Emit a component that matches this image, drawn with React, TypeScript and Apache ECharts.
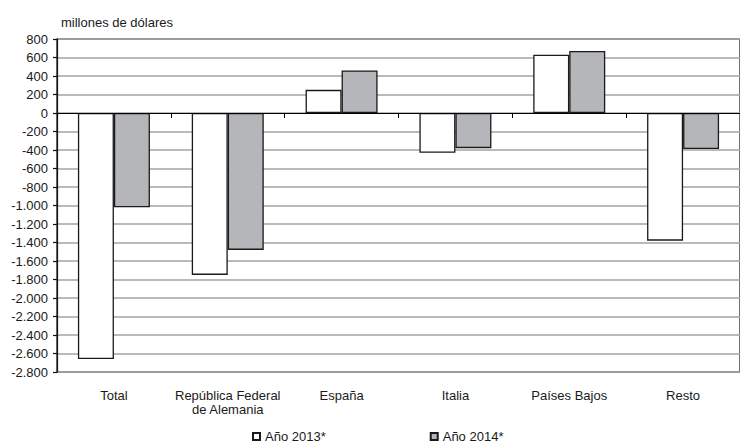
import React, { useEffect, useRef } from "react";
import * as echarts from "echarts";

const categories = [
  "Total",
  "República Federal\nde Alemania",
  "España",
  "Italia",
  "Países Bajos",
  "Resto",
];
const seriesNames = ["Año 2013*", "Año 2014*"];
const values2013 = [-2660, -1750, 250, -430, 630, -1380];
const values2014 = [-1020, -1480, 460, -380, 670, -390];
const yMin = -2800;
const yMax = 800;
const yStep = 200;
const unitLabel = "millones de dólares";

const FONT = "'Liberation Sans', Arial, sans-serif";

function fmt(v: number): string {
  const s = Math.abs(v).toString().replace(/\B(?=(\d{3})+(?!\d))/g, ".");
  return (v < 0 ? "-" : "") + s;
}

export default function App() {
  const ref = useRef<HTMLDivElement>(null);
  useEffect(() => {
    if (!ref.current) return;
    const chart = echarts.init(ref.current, undefined, { renderer: "svg" });
    chart.setOption({
      animation: false,
      backgroundColor: "#ffffff",
      textStyle: { fontFamily: FONT },
      title: {
        text: unitLabel,
        left: 56,
        top: 11,
        textStyle: { fontFamily: FONT, fontSize: 13, fontWeight: "normal", color: "#1a1a1a" },
      },
      legend: {
        data: seriesNames,
        left: 247,
        top: 425,
        icon: "rect",
        itemWidth: 7,
        itemHeight: 7,
        itemGap: 104,
        textStyle: { fontFamily: FONT, fontSize: 13, color: "#1a1a1a" },
      },
      grid: {
        left: 57,
        top: 39,
        width: 693,
        height: 333,
        show: true,
        borderColor: "#111",
        borderWidth: 1.2,
        containLabel: false,
      },
      xAxis: [
        {
          type: "category",
          data: categories,
          position: "bottom",
          z: 5,
          axisLine: { onZero: true, lineStyle: { color: "#000", width: 1.2 } },
          axisTick: { show: true, interval: 0, length: 5, lineStyle: { color: "#000", width: 1 } },
          axisLabel: { show: false },
          splitLine: { show: false },
        },
        {
          type: "category",
          data: categories,
          position: "bottom",
          axisLine: { show: false, onZero: false },
          axisTick: { show: false },
          splitLine: { show: false },
          axisLabel: {
            interval: 0,
            margin: 16,
            fontFamily: FONT,
            fontSize: 13,
            lineHeight: 14.5,
            color: "#1a1a1a",
          },
        },
      ],
      yAxis: {
        type: "value",
        min: yMin,
        max: yMax,
        interval: yStep,
        axisLine: { show: true, lineStyle: { color: "#111", width: 1.2 } },
        axisTick: { show: true, length: 4, lineStyle: { color: "#111", width: 1.2 } },
        axisLabel: {
          margin: 9,
          fontFamily: FONT,
          fontSize: 13,
          color: "#1a1a1a",
          formatter: (v: number) => fmt(v),
        },
        splitLine: { show: true, lineStyle: { color: "#a3a3a3", width: 1.5 } },
      },
      series: [
        {
          name: seriesNames[0],
          type: "bar",
          xAxisIndex: 0,
          data: values2013,
          barWidth: 36,
          barGap: "0%",
          itemStyle: { color: "#ffffff", borderColor: "#1a1a1a", borderWidth: 1.3 },
        },
        {
          name: seriesNames[1],
          type: "bar",
          xAxisIndex: 0,
          data: values2014,
          barWidth: 36,
          barGap: "0%",
          itemStyle: { color: "#b5b6b9", borderColor: "#1a1a1a", borderWidth: 1.3 },
        },
      ],
    });
    return () => chart.dispose();
  }, []);
  return (
    <div
      ref={ref}
      style={{ position: "absolute", left: 0, top: 0, width: 740, height: 443 }}
    />
  );
}
